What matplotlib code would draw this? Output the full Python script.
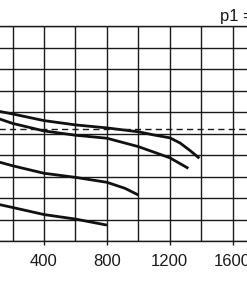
import matplotlib
matplotlib.use("Agg")
import matplotlib.pyplot as plt
import numpy as np

plt.rcParams["font.family"] = ["Liberation Sans Narrow", "Liberation Sans", "DejaVu Sans"]

# flow (x) vs outlet pressure (y)
x1 = [100, 200, 400, 600, 800, 1000, 1100, 1200, 1265, 1330, 1388]
y1 = [6.05, 5.91, 5.60, 5.40, 5.26, 5.08, 4.93, 4.80, 4.56, 4.20, 3.85]

x2 = [100, 200, 400, 600, 800, 1000, 1200, 1318]
y2 = [5.72, 5.47, 5.12, 4.92, 4.78, 4.39, 3.87, 3.38]

x3 = [100, 200, 400, 600, 800, 915, 1000]
y3 = [3.70, 3.50, 3.15, 2.96, 2.73, 2.45, 2.14]

x4 = [100, 200, 400, 600, 800]
y4 = [1.72, 1.56, 1.23, 1.02, 0.74]

dashed_level = 5.22
xticks = [400, 800, 1200, 1600]

W, H = 247, 296
fig = plt.figure(figsize=(W / 100, H / 100), dpi=100)
# axes extends past the figure on the left and right (cropped chart)
left_px = -18.9
px_per_unit = 0.15725
xmax = 1800
ax = fig.add_axes([left_px / W, (H - 241) / H, xmax * px_per_unit / W, 215 / H])

ax.set_xticks(np.arange(0, xmax + 1, 200), minor=True)
ax.set_xticks(xticks)
ax.set_xticklabels([str(t) for t in xticks])
ax.set_yticks(np.arange(0, 11, 1))
ax.set_yticklabels([])
ax.set_xlim(0, xmax)
ax.set_ylim(0, 10)
ax.grid(True, which="both", color="#1a1a1a", linewidth=1.0)
ax.tick_params(axis="x", which="major", length=3, width=1.0, pad=6.5,
               labelsize=12, colors="#1a1a1a")
ax.tick_params(axis="x", which="minor", length=0)
ax.tick_params(axis="y", which="both", length=0)
for s in ax.spines.values():
    s.set_color("#1a1a1a")
    s.set_linewidth(1.0)

lc = "#111111"
ax.plot(x1, y1, color=lc, linewidth=2.0, solid_capstyle="butt")
ax.plot(x2, y2, color=lc, linewidth=2.0, solid_capstyle="butt")
ax.plot(x3, y3, color=lc, linewidth=2.0, solid_capstyle="butt")
ax.plot(x4, y4, color=lc, linewidth=2.0, solid_capstyle="butt")
ax.axhline(dashed_level, color="#1a1a1a", linewidth=1.0, linestyle=(0, (4.5, 3)))

fig.text(220 / W, (H - 21) / H, "p1 =", fontsize=12, color="#1a1a1a",
         ha="left", va="baseline")

fig.savefig("out.png", dpi=100)
